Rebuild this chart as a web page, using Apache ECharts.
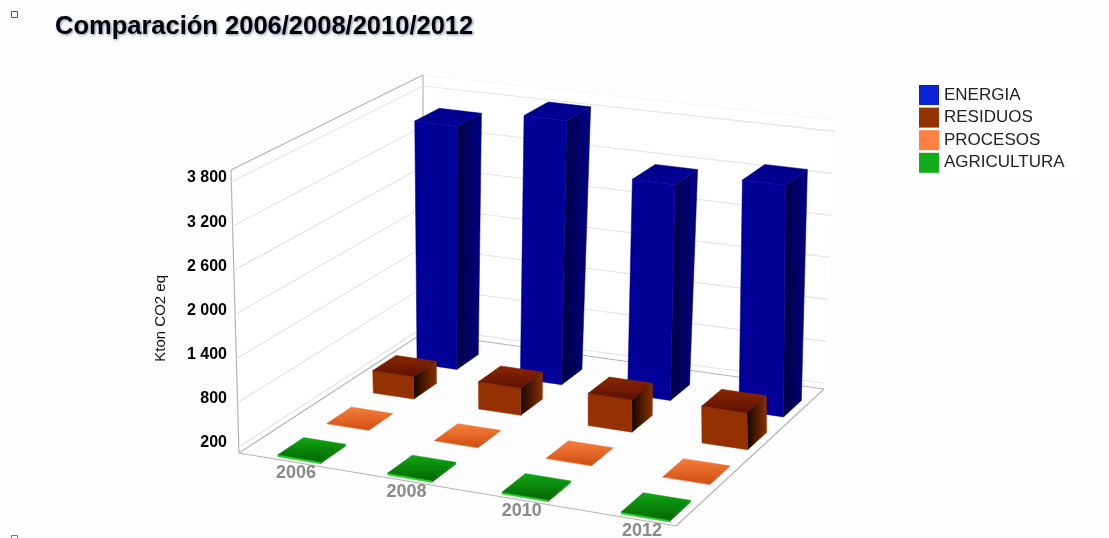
<!DOCTYPE html>
<html><head><meta charset="utf-8">
<style>html,body{margin:0;padding:0;background:#fff}#c{width:1109px;height:538px}</style>
<script src="https://cdn.jsdelivr.net/npm/echarts@6/dist/echarts.min.js"></script>
</head><body><div id="c"></div>
<script>
var categories = ['2006','2008','2010','2012'];
var seriesNames = ['ENERGIA','RESIDUOS','PROCESOS','AGRICULTURA'];
var energia = [3680,3960,3235,3425];
var residuos = [440,510,580,640];
var procesos = [125,125,125,125];
var agricultura = [145,145,145,145];
var tickValues = [200,800,1400,2000,2600,3200,3800];

var FLOOR = [[423,333],[824,389],[676,526],[239,453]];
var TOP = [[423,75],[835,120],[660,243],[231,170]];
var GRID = {left:239, top:166, width:437, height:283};
var BAR_W = 0.41, BAR_D = 0.52, ROW_SHIFT = 0.044;

function homography(q){
  var x0=q[0][0],y0=q[0][1],x1=q[1][0],y1=q[1][1],x2=q[2][0],y2=q[2][1],x3=q[3][0],y3=q[3][1];
  var dx1=x1-x2,dx2=x3-x2,sx=x0-x1+x2-x3,dy1=y1-y2,dy2=y3-y2,sy=y0-y1+y2-y3;
  var det=dx1*dy2-dx2*dy1;
  var g=(sx*dy2-dx2*sy)/det,h=(dx1*sy-sx*dy1)/det;
  var a=x1-x0+g*x1,b=x3-x0+h*x3,d=y1-y0+g*y1,e=y3-y0+h*y3;
  return function(u,v){var z=g*u+h*v+1;return [(a*u+b*v+x0)/z,(d*u+e*v+y0)/z];};
}
function bilinear(q){
  return function(u,v){
    var out=[0,0];
    for(var k=0;k<2;k++){
      var back=q[0][k]+(q[1][k]-q[0][k])*u, front=q[3][k]+(q[2][k]-q[3][k])*u;
      out[k]=back+(front-back)*v;
    }
    return out;
  };
}
var floorH = homography(FLOOR), topH = bilinear(TOP);
function proj(u,v,w){
  var f=floorH(u,v),t=topH(u,v);
  return [f[0]+(t[0]-f[0])*w, f[1]+(t[1]-f[1])*w];
}
function toUW(api,cat,val){
  var p=api.coord([cat,val]);
  return {u:(p[0]-GRID.left)/GRID.width, w:(GRID.top+GRID.height-p[1])/GRID.height};
}
function lg(x2,y2,a,b){return new echarts.graphic.LinearGradient(0,0,x2,y2,[{offset:0,color:a},{offset:1,color:b}]);}
function poly(pts,fill,stroke){
  return {type:'polygon',shape:{points:pts},style:{fill:fill,stroke:stroke||fill,lineWidth:stroke?1:0.5}};
}
var palettes = [
  {legend:'#0a23d8',front:'#000099',top:lg(0,1,'#00008c','#000094'),side:lg(1,0,'#000040','#000088')},
  {legend:'#963200',front:'#953000',top:lg(0,1,'#8a2800','#5c1000'),side:lg(1,0,'#120500','#8c3000')},
  {legend:'#ff8040',front:'#ffb48a',top:lg(0,1,'#f6803c','#d04c12'),side:lg(1,0,'#c04a10','#e06020')},
  {legend:'#12ad1a',front:'#26d02c',top:lg(0,1,'#12a614','#006600'),side:lg(1,0,'#006600','#109a10')}
];
function barSeries(idx,values){
  var pal=palettes[idx];
  return {
    type:'custom',name:seriesNames[idx],silent:true,animation:false,clip:false,
    itemStyle:{color:pal.legend},
    data:values.map(function(v,i){return [i,v];}),
    renderItem:function(params,api){
      var r=toUW(api,api.value(0),api.value(1));
      var du=BAR_W/categories.length/2, dv=BAR_D/seriesNames.length/2;
      var vc=(idx+0.5)/seriesNames.length+ROW_SHIFT;
      var u0=r.u-du,u1=r.u+du,v0=vc-dv,v1=vc+dv,w=r.w;
      var a=proj(u0,v1,0),b=proj(u1,v1,0),c=proj(u1,v0,0);
      var A=proj(u0,v1,w),B=proj(u1,v1,w),C=proj(u1,v0,w),D=proj(u0,v0,w);
      return {type:'group',children:[
        poly([b,c,C,B],pal.side),
        poly([a,b,B,A],pal.front),
        poly([A,B,C,D],pal.top)
      ]};
    }
  };
}
var wallSeries = {
  type:'custom',name:'walls',silent:true,animation:false,clip:false,z:1,
  data:[[0,tickValues[0]]],
  renderItem:function(){
    var line='#b4b4b4';
    function L(p,q,c){return {type:'line',shape:{x1:p[0],y1:p[1],x2:q[0],y2:q[1]},style:{stroke:c||line,lineWidth:1.2}};}
    return {type:'group',children:[
      poly([TOP[3],TOP[0],FLOOR[0],FLOOR[3]],'#ffffff'),
      poly([TOP[0],TOP[1],FLOOR[1],FLOOR[0]],'#ffffff'),
      L(TOP[3],TOP[0]),L(TOP[0],FLOOR[0]),L(TOP[3],FLOOR[3]),L(TOP[0],TOP[1],'#f6f6f6'),
      L(FLOOR[3],FLOOR[0]),L(FLOOR[0],FLOOR[1]),L(FLOOR[1],FLOOR[2]),L(FLOOR[2],FLOOR[3])
    ]};
  }
};
var gridSeries = {
  type:'custom',name:'grid',silent:true,animation:false,clip:false,z:1,
  data:tickValues.map(function(v){return [0,v];}),
  renderItem:function(params,api){
    var w=toUW(api,0,api.value(1)).w;
    var a=proj(0,1,w),b=proj(0,0,w),c=proj(1,0,w);
    return {type:'polyline',shape:{points:[a,b,c]},style:{fill:null,stroke:'#e4e4e4',lineWidth:1.2}};
  }
};
var labelSeries = {
  type:'custom',name:'labels',silent:true,animation:false,clip:false,z:3,
  data:categories.map(function(c,i){return [i,tickValues[0]];}),
  renderItem:function(params,api){
    var i=api.value(0),r=toUW(api,i,tickValues[0]);
    var p=proj(r.u,(seriesNames.length-0.5+BAR_D/2)/seriesNames.length+ROW_SHIFT,0);
    return {type:'text',style:{text:categories[i],x:p[0]-3,y:p[1]+13,align:'center',verticalAlign:'middle',
      font:'bold 18px "Liberation Sans"',fill:'#8a8a8a'}};
  }
};
var option = {
  backgroundColor:'#fdfdfd',animation:false,
  title:{text:'Comparación 2006/2008/2010/2012',left:55,top:14,padding:0,
    textStyle:{fontFamily:'Liberation Sans',fontWeight:'bold',fontSize:25.5,color:'#000',
      textShadowColor:'rgba(0,30,90,0.5)',textShadowBlur:3,textShadowOffsetX:1,textShadowOffsetY:1}},
  legend:{data:seriesNames,left:905,top:80,orient:'vertical',icon:'rect',itemWidth:20,itemHeight:20,itemGap:2.6,
    padding:[5,18,5,14],backgroundColor:'#ffffff',selectedMode:false,
    textStyle:{fontFamily:'Liberation Sans',fontSize:17,color:'#222',padding:[0,0,0,0]}},
  grid:{left:GRID.left,top:GRID.top,width:GRID.width,height:GRID.height},
  xAxis:{type:'value',min:-0.528,max:3.272,show:false},
  yAxis:{type:'value',min:118,max:3964,splitLine:{show:false},axisLine:{show:false},axisTick:{show:false},
    axisLabel:{customValues:tickValues,margin:12,fontFamily:'Liberation Sans',fontWeight:'bold',fontSize:16,color:'#000',
      formatter:function(v){return String(v).replace(/\B(?=(\d{3})+$)/g,' ');}}},
  graphic:[
    {type:'text',left:153,top:275,z:5,style:{text:'Kton CO2 eq',font:'15px "Liberation Sans"',fill:'#111'},rotation:Math.PI/2},
    {type:'rect',left:11,top:11,shape:{width:6,height:6},style:{fill:'#fff',stroke:'#555',lineWidth:1}},
    {type:'rect',left:11,top:535,shape:{width:6,height:3},style:{fill:'#fff',stroke:'#777',lineWidth:1}}
  ],
  series:[wallSeries,gridSeries,
    barSeries(0,energia),barSeries(1,residuos),barSeries(2,procesos),barSeries(3,agricultura),labelSeries]
};
var chart=echarts.init(document.getElementById('c'),null,{renderer:'canvas'});
chart.setOption(option);
</script></body></html>
